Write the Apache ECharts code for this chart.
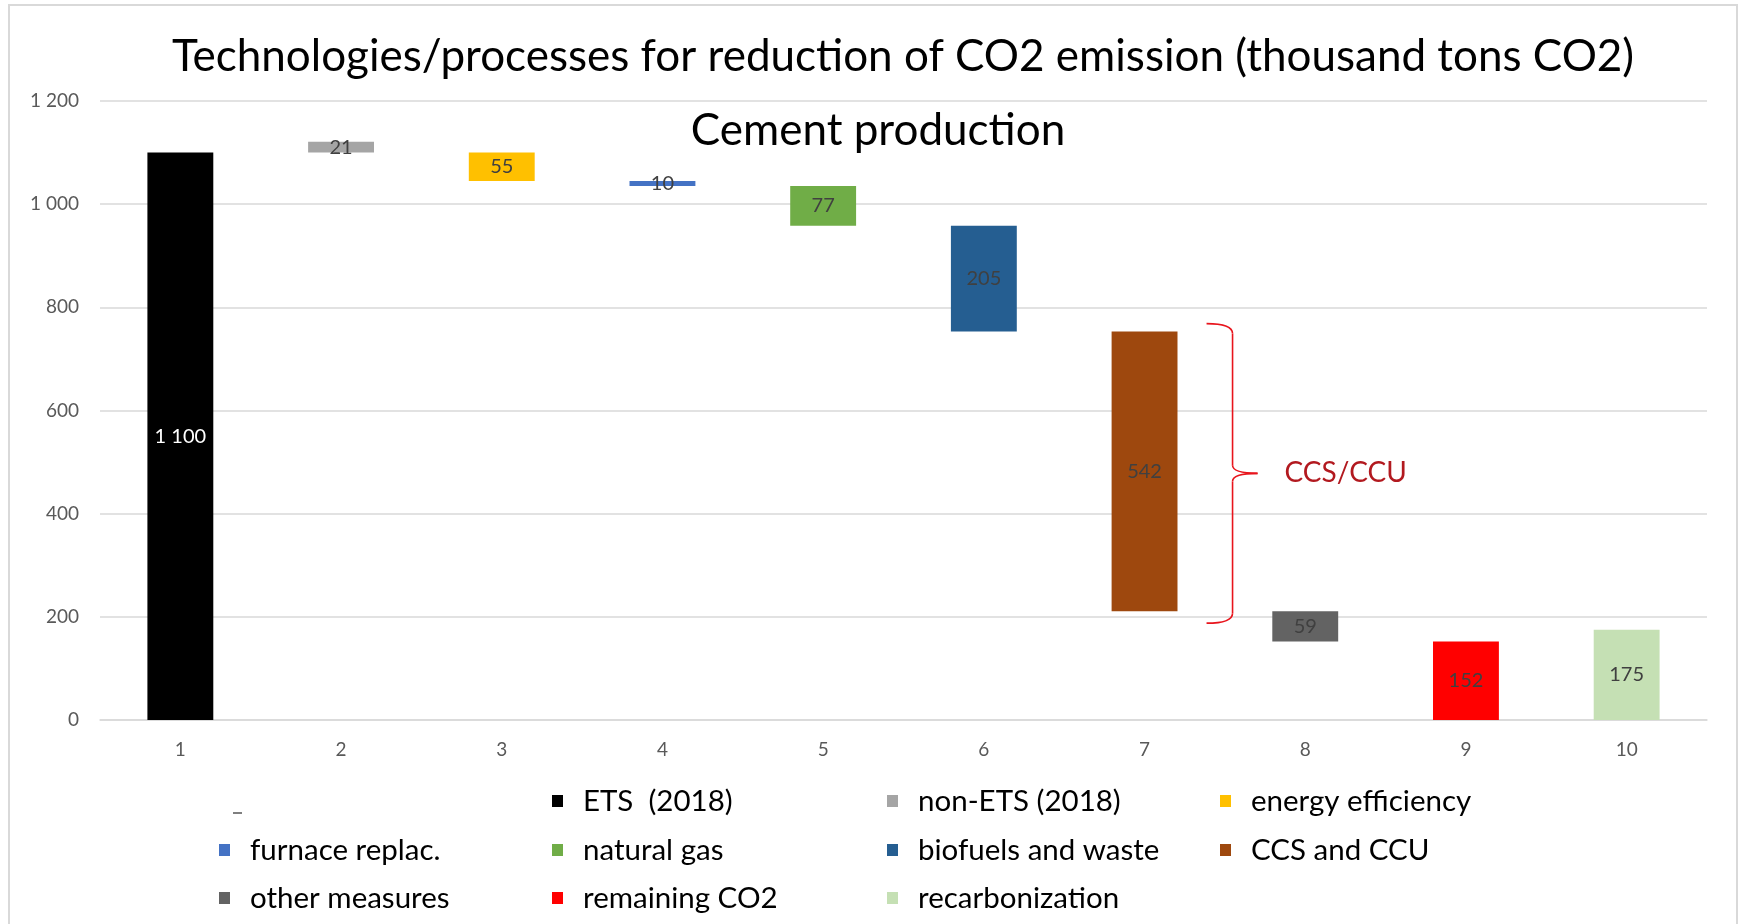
<!DOCTYPE html>
<html>
<head>
<meta charset="utf-8">
<title>Cement production</title>
<script src="https://cdn.jsdelivr.net/npm/echarts@6/dist/echarts.min.js"></script>
<style>
* { margin: 0; padding: 0; }
html, body { background: #fff; }
#main { width: 1739px; height: 924px; }
</style>
</head>
<body>
<div id="main"></div>
<script>
let categories = ['1', '2', '3', '4', '5', '6', '7', '8', '9', '10'];
let names = ['ETS  (2018)', 'non-ETS (2018)', 'energy efficiency', 'furnace replac.', 'natural gas',
	'biofuels and waste', 'CCS and CCU', 'other measures', 'remaining CO2', 'recarbonization'];
// bar size (thousand tons CO2)
let values = [1100, 21, 55, 10, 77, 205, 542, 59, 152, 175];
// where each floating bar starts
let bottoms = [0, 1100, 1045, 1035, 958, 753, 211, 152, 0, 0];
let yTicks = [0, 200, 400, 600, 800, 1000, 1200];
let myColor = ['#000000', '#A5A5A5', '#FFC000', '#4472C4', '#70AD47',
	'#255E91', '#9E480E', '#636363', '#FF0000', '#C5E0B4'];

let font = 'Lato';
let myChart = echarts.init(document.getElementById('main'));

function fmt(v) {
	return String(v).replace(/\B(?=(\d{3})+(?!\d))/g, ' ');
}

function fresh() {
	let series = [{
		name: 'base',
		type: 'bar',
		stack: 'w',
		silent: true,
		itemStyle: { color: 'transparent' },
		data: bottoms,
		barWidth: '41%'
	}];
	names.forEach((n, i) => {
		series.push({
			name: n,
			type: 'bar',
			stack: 'w',
			barWidth: '41%',
			itemStyle: { color: myColor[i] },
			label: {
				show: true,
				position: 'inside',
				fontFamily: font,
				fontSize: 20,
				color: i == 0 ? '#FFFFFF' : '#404040',
				formatter: p => fmt(p.value)
			},
			data: values.map((v, j) => j == i ? v : '-')
		});
	});

	// legend: 4 columns x 3 rows, first slot holds only a dash
	let colX = [214, 547, 882, 1215];
	let rowY = [781, 830, 878];
	let legends = names.map((n, i) => {
		let k = i + 1;
		return {
			data: [n],
			left: colX[k % 4],
			top: rowY[Math.floor(k / 4)],
			icon: 'rect',
			itemWidth: 11,
			itemHeight: 12,
			selectedMode: false,
			textStyle: {
				fontFamily: font,
				fontSize: 29.5,
				color: '#000',
				padding: [0, 0, 0, 15]
			}
		};
	});

	let option = {
		backgroundColor: '#fff',
		animation: false,
		title: [{
			text: 'Technologies/processes for reduction of CO2 emission (thousand tons CO2)',
			left: 898,
			top: 30,
			textAlign: 'center',
			textStyle: { fontFamily: font, fontSize: 44, fontWeight: 'normal', color: '#000' }
		}, {
			text: 'Cement production',
			left: 873,
			top: 104,
			textAlign: 'center',
			textStyle: { fontFamily: font, fontSize: 44, fontWeight: 'normal', color: '#000' }
		}],
		legend: legends,
		grid: { left: 100, right: 32, top: 101, bottom: 204 },
		xAxis: {
			type: 'category',
			data: categories,
			axisLine: { lineStyle: { color: '#D9D9D9', width: 1.5 } },
			axisTick: { show: false },
			axisLabel: { color: '#595959', fontFamily: font, fontSize: 19, margin: 20 }
		},
		yAxis: {
			type: 'value',
			min: yTicks[0],
			max: yTicks[yTicks.length - 1],
			interval: yTicks[1] - yTicks[0],
			axisLine: { show: false },
			axisTick: { show: false },
			splitLine: { lineStyle: { color: '#D9D9D9', width: 1.5 } },
			axisLabel: { color: '#595959', fontFamily: font, fontSize: 19, margin: 21, formatter: v => fmt(v) }
		},
		series: series
	};
	myChart.setOption(option);

	// CCS/CCU brace next to bar 7
	let top = myChart.convertToPixel({ xAxisIndex: 0, yAxisIndex: 0 }, [6, bottoms[6] + values[6]]);
	let bot = myChart.convertToPixel({ xAxisIndex: 0, yAxisIndex: 0 }, [6, bottoms[6]]);
	let cx = top[0];
	let yt = top[1] - 8, yb = bot[1] + 12, ym = (yt + yb) / 2;
	let x0 = cx + 62, x1 = cx + 88, x2 = cx + 113;
	let braceStyle = { fill: 'none', stroke: '#E8141C', lineWidth: 1.6 };
	let curve = (a, b, c, d, e, f) => ({
		type: 'bezierCurve',
		shape: { x1: a, y1: b, cpx1: c, cpy1: d, x2: e, y2: f },
		style: braceStyle
	});
	let line = (a, b, c, d) => ({
		type: 'line',
		shape: { x1: a, y1: b, x2: c, y2: d },
		style: braceStyle
	});

	myChart.setOption({
		graphic: [{
			type: 'rect',
			shape: { x: 9, y: 5, width: 1728, height: 940 },
			style: { fill: 'none', stroke: '#D9D9D9', lineWidth: 2 },
			silent: true
		},
		curve(x0, yt, x1, yt, x1, yt + 10),
		line(x1, yt + 10, x1, ym - 8),
		curve(x1, ym - 8, x1, ym, x2, ym),
		curve(x2, ym, x1, ym, x1, ym + 8),
		line(x1, ym + 8, x1, yb - 10),
		curve(x1, yb - 10, x1, yb, x0, yb),
		{
			type: 'text',
			x: cx + 140,
			y: ym,
			style: { text: 'CCS/CCU', fill: '#B2191F', font: '28px Lato', verticalAlign: 'middle' }
		}, {
			type: 'rect',
			shape: { x: 233, y: 812, width: 9, height: 2 },
			style: { fill: '#7F7F7F' }
		}]
	});
}
fresh();
</script>
</body>
</html>
